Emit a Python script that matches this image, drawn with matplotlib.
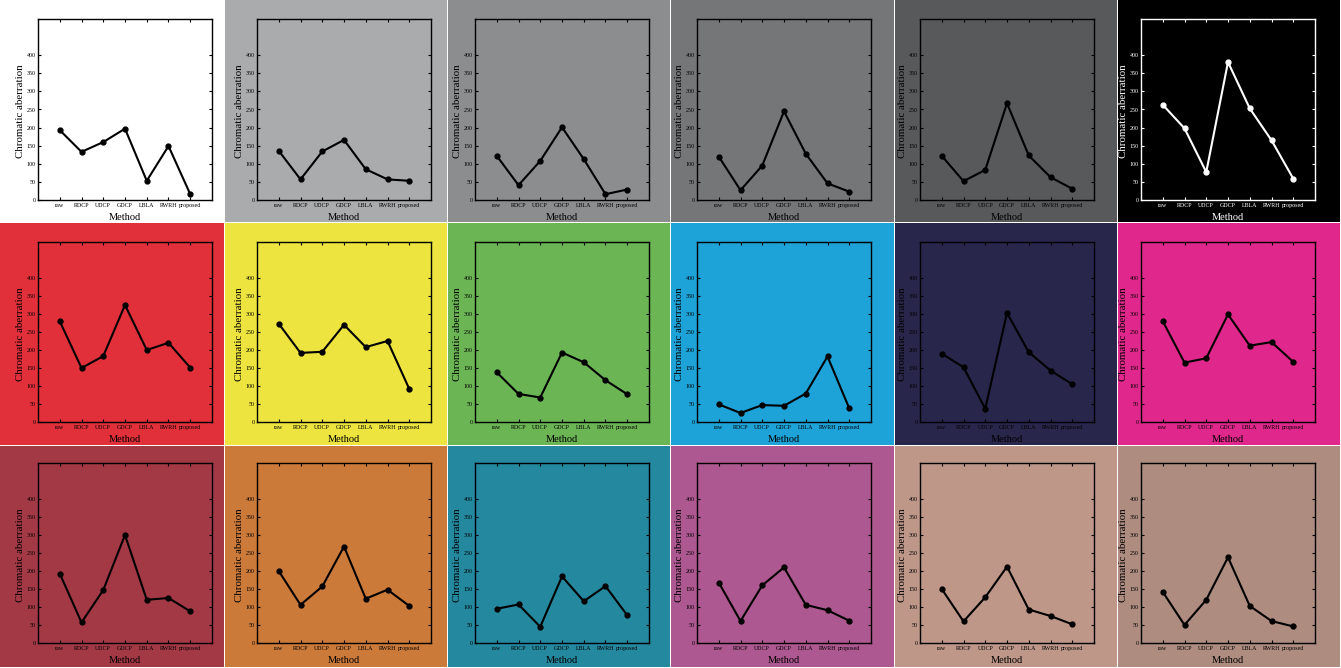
import matplotlib
matplotlib.use("Agg")
import matplotlib.pyplot as plt
from matplotlib.patches import Rectangle

plt.rcParams['font.family'] = ['Liberation Serif', 'DejaVu Serif']

methods = ["raw", "RDCP", "UDCP", "GDCP", "LBLA", "RWRH", "proposed"]
yticks = [0, 50, 100, 150, 200, 250, 300, 350, 400]

# one series per colour tile, row by row
row1_values = [
    [193, 133, 160, 197, 53, 149, 16],
    [136, 57, 134, 166, 85, 57, 53],
    [122, 41, 108, 201, 113, 16, 29],
    [120, 27, 95, 245, 128, 46, 23],
    [122, 52, 83, 267, 123, 63, 31],
    [263, 198, 77, 381, 253, 165, 59],
]
row2_values = [
    [280, 150, 183, 325, 200, 220, 151],
    [273, 192, 195, 270, 208, 225, 92],
    [138, 78, 68, 193, 166, 116, 77],
    [49, 25, 47, 45, 79, 182, 38],
    [190, 152, 37, 303, 194, 143, 105],
    [280, 165, 177, 299, 212, 222, 167],
]
row3_values = [
    [193, 57, 147, 300, 120, 125, 88],
    [200, 106, 157, 268, 123, 148, 103],
    [95, 107, 45, 185, 116, 158, 77],
    [168, 61, 160, 210, 106, 91, 62],
    [150, 60, 127, 212, 93, 75, 52],
    [142, 50, 120, 238, 103, 61, 46],
]
tile_colors = [
    ["#ffffff", "#aaabad", "#8c8d8f", "#757678", "#58595b", "#000000"],
    ["#e2303a", "#ede43f", "#6bb555", "#1ea3d9", "#29264b", "#e0288c"],
    ["#a33945", "#cc7a3a", "#24889f", "#ad5890", "#be9789", "#ae8c7f"],
]

W, H = 1341, 668
fig = plt.figure(figsize=(W / 100, H / 100), dpi=100)
fig.patch.set_facecolor("white")

col_x = [0, 225, 448, 671, 895, 1118, 1341]
row_y = [0, 223, 446, 668]
left_off = [38, 32, 27, 26, 25, 23]
top_off = [19, 19, 17]
bot_off = [200, 199, 197]
ax_w = 174

all_values = [row1_values, row2_values, row3_values]
x = list(range(1, len(methods) + 1))

# coloured background tiles
for r in range(3):
    for c in range(6):
        tx0, tx1 = col_x[c], col_x[c + 1] - 1
        ty0, ty1 = row_y[r], row_y[r + 1] - 1
        fig.add_artist(Rectangle((tx0 / W, 1 - ty1 / H), (tx1 - tx0) / W, (ty1 - ty0) / H,
                                 transform=fig.transFigure, facecolor=tile_colors[r][c],
                                 edgecolor="none", zorder=-5))

for r in range(3):
    for c in range(6):
        color = tile_colors[r][c]
        fg = "white" if color == "#000000" else "black"
        axl = (col_x[c] + left_off[c]) / W
        axb = 1 - (row_y[r] + bot_off[r]) / H
        axh = (bot_off[r] - top_off[r]) / H
        ax = fig.add_axes([axl, axb, ax_w / W, axh])
        ax.set_facecolor(color)
        ax.plot(x, all_values[r][c], color=fg, lw=1.5, marker="o", ms=3.5)
        ax.set_xlim(0, 8)
        ax.set_ylim(0, 500)
        ax.set_xticks(x)
        ax.set_xticklabels(methods, fontsize=4.3, color=fg)
        ax.set_yticks(yticks)
        ax.set_yticklabels([str(v) for v in yticks], fontsize=4.3, color=fg)
        ax.tick_params(direction="in", top=True, right=True, length=2.5,
                       width=0.8, color=fg)
        ax.tick_params(axis="y", pad=1.5)
        ax.tick_params(axis="x", pad=2.5)
        for s in ax.spines.values():
            s.set_color(fg)
            s.set_linewidth(1.0)
        ax.set_ylabel("Chromatic aberration", fontsize=7.8, color=fg)
        ax.yaxis.set_label_coords(-0.072, 0.49)
        ax.set_xlabel("Method", fontsize=7.5, color=fg)
        ax.xaxis.set_label_coords(0.5, -0.07)

fig.savefig("out.png", dpi=100, facecolor=fig.get_facecolor())
